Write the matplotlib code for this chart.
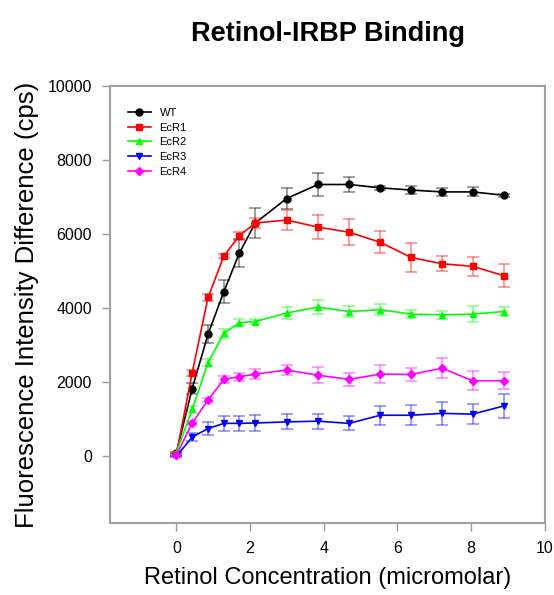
import matplotlib
matplotlib.use("Agg")
import matplotlib.pyplot as plt

plt.rcParams['font.family'] = ['Liberation Sans', 'DejaVu Sans']

# concentracion de retinol (micromolar)
conc = [0, 0.43, 0.86, 1.29, 1.71, 2.14, 2.99, 3.84, 4.69, 5.53, 6.37, 7.21, 8.04, 8.88]

wt = [100, 1830, 3300, 4450, 5490, 6300, 6960, 7340, 7340, 7250, 7190, 7140, 7140, 7050]
wt_err = [30, 150, 250, 316, 390, 400, 295, 316, 210, 50, 100, 100, 120, 40]

ecr1 = [50, 2260, 4290, 5410, 5960, 6300, 6380, 6190, 6050, 5780, 5370, 5200, 5130, 4880]
ecr1_err = [30, 80, 100, 60, 110, 135, 280, 320, 350, 300, 400, 200, 250, 320]

ecr2 = [100, 1265, 2530, 3325, 3610, 3640, 3870, 4030, 3910, 3960, 3840, 3820, 3840, 3910]
ecr2_err = [30, 100, 100, 120, 100, 80, 170, 180, 150, 155, 110, 100, 220, 125]

ecr3 = [0, 520, 750, 890, 890, 900, 930, 950, 890, 1110, 1110, 1160, 1140, 1360]
ecr3_err = [20, 100, 170, 200, 200, 210, 200, 200, 190, 255, 270, 305, 270, 335]

ecr4 = [30, 900, 1520, 2080, 2150, 2220, 2330, 2190, 2080, 2220, 2210, 2380, 2040, 2040]
ecr4_err = [30, 60, 60, 90, 110, 145, 145, 210, 180, 250, 165, 265, 260, 225]

series = [
    ("WT", wt, wt_err, "black", "o"),
    ("EcR1", ecr1, ecr1_err, "#ff0000", "s"),
    ("EcR2", ecr2, ecr2_err, "#00ff00", "^"),
    ("EcR3", ecr3, ecr3_err, "#0000ff", "v"),
    ("EcR4", ecr4, ecr4_err, "#ff00ff", "D"),
]

fig = plt.figure(figsize=(5.54, 5.95), dpi=100)
ax = fig.add_axes([0.1986, 0.121, 0.785, 0.7345])

for name, y, err, col, mk in series:
    ax.errorbar(conc, y, yerr=err, fmt="none", ecolor=col, alpha=0.45,
                elinewidth=1.2, capsize=4.5, capthick=1.2)
    ax.plot(conc, y, color=col, marker=mk, markersize=5 if mk != "D" else 4.5,
            linewidth=1.2, label=name)

ax.set_xlim(-1.8, 10)
ax.set_ylim(-1800, 10000)
ax.set_xticks([0, 2, 4, 6, 8, 10])
ax.set_yticks([0, 2000, 4000, 6000, 8000, 10000])
ax.tick_params(direction="out", length=6, width=1, color="#999999",
               labelsize=11.5, pad=7)
for s in ax.spines.values():
    s.set_color("#a0a0a0")
    s.set_linewidth(1.5)

ax.set_xlabel("Retinol Concentration (micromolar)", fontsize=17, labelpad=8)
ax.set_ylabel("Fluorescence Intensity Difference (cps)", fontsize=18.5, labelpad=6)
fig.suptitle("Retinol-IRBP Binding", fontsize=19.5, fontweight="bold", x=0.592, y=0.965)

ax.legend(loc="upper left", bbox_to_anchor=(0.032, 0.96), frameon=False, fontsize=8,
          handlelength=2.0, handletextpad=0.8, labelspacing=0.42, borderaxespad=0)

fig.savefig("out.png", dpi=100)
